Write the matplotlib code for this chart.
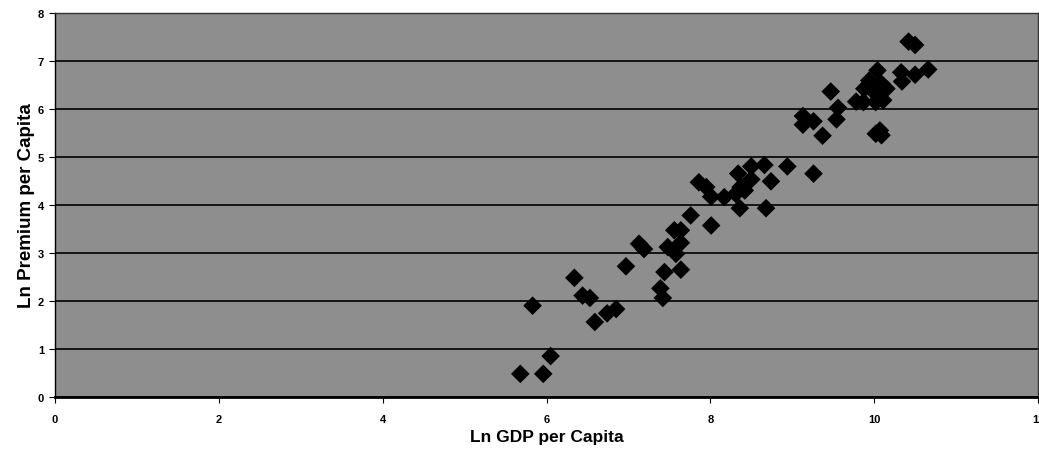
"""Ln premium per capita against ln GDP per capita, scatter on a gray panel."""

import matplotlib
matplotlib.use('Agg')
import matplotlib.pyplot as plt


GDP = [
    5.68, 5.96, 6.05, 5.83, 6.34, 6.44, 6.53, 6.59, 6.74, 6.85, 6.97,
    7.39, 7.42, 7.44, 7.64, 7.58, 7.48, 7.64, 7.13, 7.19, 7.56, 7.64,
    7.76, 8.01, 7.86, 7.95, 8.01, 8.17, 8.31, 8.42, 8.36, 8.68, 8.34,
    8.50, 8.74, 8.37, 8.50, 8.66, 8.94, 9.26, 9.13, 9.13, 9.26, 9.54,
    9.37, 9.56, 9.47, 9.78, 9.87, 10.02, 10.11, 9.88, 10.00, 10.15,
    10.09, 9.94, 10.04, 10.33, 10.34, 10.50, 10.66, 10.42, 10.50,
    10.07, 10.09, 10.02,
]
PREMIUM = [
    0.48, 0.48, 0.85, 1.90, 2.48, 2.11, 2.06, 1.56, 1.74, 1.83, 2.72,
    2.26, 2.06, 2.60, 2.65, 2.98, 3.12, 3.21, 3.19, 3.08, 3.47, 3.47,
    3.78, 3.57, 4.47, 4.37, 4.17, 4.16, 4.23, 4.30, 3.93, 3.93, 4.65,
    4.53, 4.49, 4.37, 4.80, 4.83, 4.80, 4.65, 5.85, 5.67, 5.74, 5.78,
    5.44, 6.02, 6.36, 6.15, 6.14, 6.14, 6.18, 6.42, 6.35, 6.42,
    6.52, 6.59, 6.80, 6.76, 6.57, 6.71, 6.82, 7.40, 7.33,
    5.55, 5.45, 5.48,
]
X_TICKS = [0, 2, 4, 6, 8, 10, 12]
Y_TICKS = [0, 1, 2, 3, 4, 5, 6, 7, 8]

plt.rcParams['font.family'] = ['Liberation Sans', 'DejaVu Sans']

fig = plt.figure(figsize=(10.39, 4.60), dpi=100)
ax = fig.add_axes([0.053, 0.135, 0.946, 0.835])
ax.set_facecolor('#8e8e8e')

ax.set_xlim(0, 12)
ax.set_ylim(0, 8)
ax.set_xticks(X_TICKS)
ax.set_yticks(Y_TICKS)
ax.set_xticklabels([str(t) for t in X_TICKS], fontsize=8, fontweight='bold')
ax.set_yticklabels([str(t) for t in Y_TICKS], fontsize=8, fontweight='bold')
ax.tick_params(axis='both', direction='out', length=4, width=0.8,
               color='black', pad=8)
ax.tick_params(axis='y', pad=4)

ax.yaxis.grid(True, color='black', linewidth=1.2)
ax.set_axisbelow(True)
for side in ('top', 'right'):
  ax.spines[side].set_color('#333333')
  ax.spines[side].set_linewidth(1.0)
ax.spines['left'].set_linewidth(1.0)
ax.spines['bottom'].set_linewidth(2.0)

ax.scatter(GDP, PREMIUM, marker='D', s=90, color='black',
           edgecolors='none', zorder=3)

ax.set_xlabel('Ln GDP per Capita', fontsize=12.5, fontweight='bold',
              labelpad=4)
ax.set_ylabel('Ln Premium per Capita', fontsize=13.5, fontweight='bold',
              labelpad=2)

fig.savefig('out.png', dpi=100)
